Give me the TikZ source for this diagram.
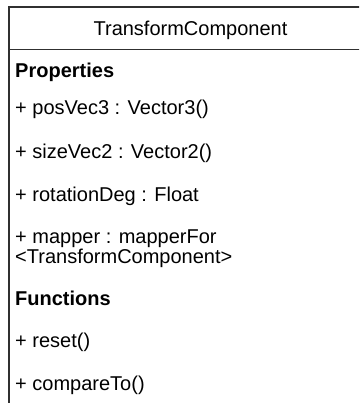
\documentclass[tikz,border=0pt]{standalone}
\usepackage{fontspec}
\setmainfont{Liberation Sans}
\definecolor{umlline}{HTML}{303030}

\begin{document}
\begin{tikzpicture}[x=1pt, y=-1pt,
	item/.style = {anchor=base west, inner sep=0pt, font=\fontsize{20}{21}\selectfont},
	title/.style = {item, anchor=base},
	part/.style = {item, font=\fontsize{20}{21}\selectfont\bfseries},
	umlbox/.style = {draw=umlline, line width=1.8pt}]
	\useasboundingbox (0,0) rectangle (359,403);
	\clip (0,0) rectangle (359,403);
	\fill[white] (0,0) rectangle (359,403);
	% class box, runs past the right and bottom edges
	\draw[umlbox] (9,7) rectangle (372,430);
	\draw[umlbox] (9,49.5) -- (372,49.5);
	\node[title] (head) at (190.5,35.5) {TransformComponent};
	\node[part] (props) at (15,78) {Properties};
	\node[item] (1) at (15,115) {+ posVec3 : Vector3()};
	\node[item] (2) at (15,159) {+ sizeVec2 : Vector2()};
	\node[item] (3) at (15,201) {+ rotationDeg : Float};
	\node[item] (4) at (15,243) {+ mapper : mapperFor};
	\node[item] (5) at (15,263) {<TransformComponent>};
	\node[part] (funcs) at (15,305) {Functions};
	\node[item] (6) at (15,347) {+ reset()};
	\node[item] (7) at (15,390) {+ compareTo()};
\end{tikzpicture}
\end{document}
